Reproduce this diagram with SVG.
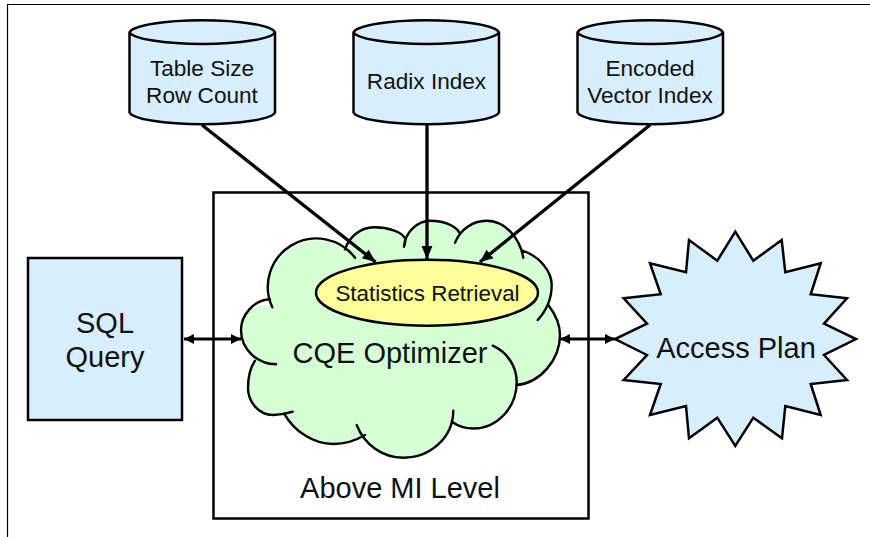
<svg xmlns="http://www.w3.org/2000/svg" width="870" height="537" viewBox="0 0 870 537">
<style>
text{font-family:"Liberation Sans",Arial,sans-serif;fill:#111;text-anchor:middle}
.s{stroke:#000;stroke-width:2.5;stroke-linejoin:miter}
.blue{fill:#d7eeff}
.cyl{font-size:22.6px}
.big{font-size:29px}
.d{fill:none;stroke:#000;stroke-width:3;marker-start:url(#b);marker-end:url(#a)}
.t{fill:none;stroke:#000;stroke-width:3.3;marker-end:url(#a2)}
</style>
<defs>
<marker id="a" markerUnits="userSpaceOnUse" markerWidth="12" markerHeight="12" refX="10" refY="6" orient="auto"><path d="M0,1 L10,6 L0,11 Z" fill="#000"/></marker>
<marker id="b" markerUnits="userSpaceOnUse" markerWidth="12" markerHeight="12" refX="0" refY="6" orient="auto"><path d="M10,1 L0,6 L10,11 Z" fill="#000"/></marker>
<marker id="a2" markerUnits="userSpaceOnUse" markerWidth="14" markerHeight="14" refX="13" refY="7" orient="auto"><path d="M0,1.5 L13,7 L0,12.5 Z" fill="#000"/></marker>
</defs>
<rect width="870" height="537" fill="#fff"/>
<path id="frame" d="M7.5,537 V4.5 H870" fill="none" stroke="#000" stroke-width="1.2"/>
<g id="above-mi-level">
<rect x="213.5" y="192.5" width="375" height="326" fill="#fff" stroke="#000" stroke-width="2.5"/>
<text x="400" y="498" class="big">Above MI Level</text>
</g>
<g id="table-size">
<path class="s blue" d="M129.5,32.3 V112.5 A73,12.7 0 0 0 275,112.5 V32.3 A73,13.2 0 0 0 129.5,32.3 Z"/>
<path class="s" fill="none" d="M129.5,32.3 A73,12.7 0 0 0 275,32.3"/>
<text x="202" y="76" class="cyl">Table Size</text>
<text x="202" y="102.5" class="cyl">Row Count</text>
</g>
<g id="radix-index">
<path class="s blue" d="M353.5,32.3 V112.5 A73,12.7 0 0 0 499,112.5 V32.3 A73,13.2 0 0 0 353.5,32.3 Z"/>
<path class="s" fill="none" d="M353.5,32.3 A73,12.7 0 0 0 499,32.3"/>
<text x="426.5" y="89" class="cyl">Radix Index</text>
</g>
<g id="encoded-vector-index">
<path class="s blue" d="M577.5,32.3 V112.5 A73,12.7 0 0 0 723,112.5 V32.3 A73,13.2 0 0 0 577.5,32.3 Z"/>
<path class="s" fill="none" d="M577.5,32.3 A73,12.7 0 0 0 723,32.3"/>
<text x="650" y="76" class="cyl">Encoded</text>
<text x="650" y="102.5" class="cyl">Vector Index</text>
</g>
<g id="sql-query">
<rect x="28" y="258" width="154" height="162" class="s blue"/>
<text x="105" y="332.5" class="big">SQL</text>
<text x="105" y="367" class="big">Query</text>
</g>
<g id="cqe-optimizer">
<path fill="#d5ffd5" d="M272.3,307.3 A48.5,48.5 0 0 1 345,249.3 C350,235 362,227.5 373.3,227.3 C388,227 402,232 405,238.3 C408,228 418,220.7 430,220.7 C443,220.7 455,225 460,233.3 C466,225 475,220.7 486.7,220.7 C505,220.7 518,235 522.3,250.7 C540,256 551.7,272 551.7,285 C551.7,292 551,299 548.3,305 C556,315 560,325 560,335 C560,360 540,383 516.7,385 C515,408 497,428.5 473.3,428.5 C465,428.5 458,426 451.7,421.7 C445,442 425,457.7 403.3,457.7 C387,457.7 373,449 365,435 C355,441 344,444 333.3,444 C313,444 294,431 284,413.3 C280,414.5 277,415 273,415 C258,415 248,401 248,388 C248,378 250,368 255,360.7 C246,352 241,342 241,330 C241,316 253,300 272.3,307.3 Z"/>
<path fill="none" stroke="#000" stroke-width="2.4" stroke-linecap="round" d="M272.3,307.3 A48.5,48.5 0 0 1 355,257.7 M345,249.3 C350,235 362,227.5 373.3,227.3 C388,227 402,232 405,238.3 C406,241 405,244 404,246.7 M404,246.7 C405,232 418,220.7 430,220.7 C443,220.7 455,225 460,233.3 M455,242.7 C460,230 472,220.7 486.7,220.7 C505,220.7 520,238 523.3,257.7 M522.3,250.7 C540,256 551.7,272 551.7,285 C551.7,298 546,311 537.7,320 M548.3,305 C556,315 560,325 560,335 C560,360 540,383 516.7,385 M492.7,345.7 C507,352 516.7,366 516.7,382 C516.7,408 497,428.5 473.3,428.5 C465,428.5 458,426 451.7,421.7 M453.3,410.7 C453,438 430,457.7 403.3,457.7 C382,457.7 364,444 356.7,425 M365,435 C355,441 344,444 333.3,444 C313,444 294,431 284,413.3 M292.7,411.7 C286,414 280,415 273,415 C258,415 248,401 248,388 C248,378 250,368 255,360.7 M276,364.3 C258,364 241,350 241,330 C241,316 253,300 270,299.3"/>
<text x="390" y="363" class="big">CQE Optimizer</text>
</g>
<g id="statistics-retrieval">
<ellipse cx="427" cy="292.7" rx="111" ry="33" fill="#ffff99" stroke="#000" stroke-width="2.5"/>
<text x="427.5" y="300.5" font-size="22.4">Statistics Retrieval</text>
</g>
<g id="access-plan">
<polygon class="s blue" points="735.3,231.7 753.3,260.7 781.7,240 785.3,272.3 820.7,263.3 810.7,294.3 847,298.3 824,323.7 856,339 824,355 847,380 810.7,384 820.7,415 785.3,406 782,438.3 753.3,417.7 735.3,446 717.3,417.7 689,438.3 686,406 650,415 660.7,384 623.7,380 647,355 615,339 647,323.7 623.7,298.3 660.7,294.3 650,263.3 686,272.3 689,240 717.3,260.7"/>
<text x="736" y="358" class="big">Access Plan</text>
</g>
<g id="connectors">
<path class="t" d="M202,125 L375.5,262"/>
<path class="t" d="M427,125 L427,259"/>
<path class="t" d="M650,125 L480,262"/>
<path class="d" d="M184,339 H241"/>
<path class="d" d="M560,339 H615"/>
</g>
</svg>
